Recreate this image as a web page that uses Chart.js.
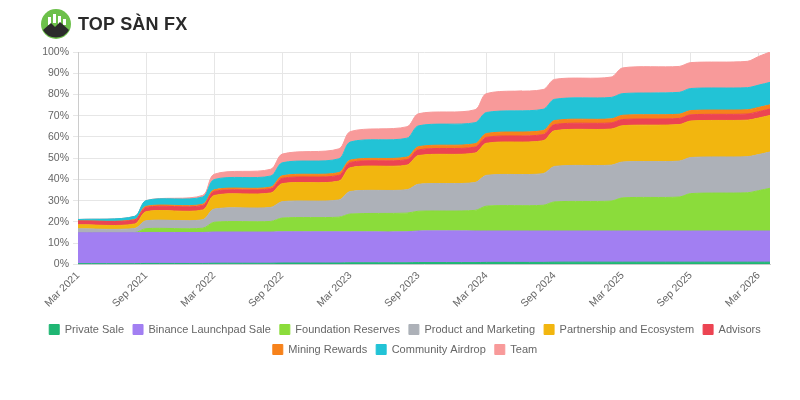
<!DOCTYPE html>
<html>
<head>
<meta charset="utf-8">
<script src="https://cdn.jsdelivr.net/npm/chart.js@4/dist/chart.umd.min.js"></script>
<style>
  html, body { margin: 0; padding: 0; background: #fff; }
  #wrap { position: relative; width: 800px; height: 400px; }
  #logo { position: absolute; left: 40px; top: 8px; display: flex; align-items: center; font-family: 'Liberation Sans', Arial, sans-serif; }
  #logo span { font-weight: bold; font-size: 18px; color: #2a2a2a; margin-left: 6px; letter-spacing: 0.2px; }
</style>
</head>
<body>
<div id="wrap">
  <canvas id="chart" width="800" height="400"></canvas>
  <div id="logo">
    <svg width="32" height="32" viewBox="0 0 32 32">
      <circle cx="16" cy="16" r="15" fill="#6cc04a"/>
      <rect x="8" y="9" width="3" height="8" fill="#fff"/>
      <rect x="13" y="6" width="3" height="9" fill="#fff"/>
      <rect x="18" y="8" width="3" height="8" fill="#fff"/>
      <rect x="23" y="11" width="3" height="6" fill="#fff"/>
      <path d="M3 22 L11 15 L15 19 L20 14 L29 22 A15 15 0 0 1 3 22 Z" fill="#2b2b2b"/>
    </svg>
    <span>TOP SÀN FX</span>
  </div>
</div>
<script>
// month index since Mar 2021 for each point
const months = [0, 5, 6, 11, 12, 17, 18, 23, 24, 29, 30, 35, 36, 41, 42, 47, 48, 53, 54, 59, 60, 61];
const tickLabels = ['Mar 2021', 'Sep 2021', 'Mar 2022', 'Sep 2022', 'Mar 2023', 'Sep 2023',
  'Mar 2024', 'Sep 2024', 'Mar 2025', 'Sep 2025', 'Mar 2026'];

// unlocked share of total supply, in %
const privateSale = [0.3, 0.3, 0.4, 0.4, 0.5, 0.5, 0.6, 0.6, 0.7, 0.7, 0.8, 0.8, 0.9, 0.9, 1.0, 1.0, 1.0, 1.0, 1.0, 1.0, 1.0, 1.0];
const launchpadSale = [14.6, 14.6, 14.6, 14.6, 14.7, 14.7, 14.7, 14.7, 14.6, 14.6, 14.9, 14.9, 14.8, 14.8, 14.7, 14.7, 14.7, 14.7, 14.7, 14.7, 14.7, 14.7];
const foundation = [0, 0, 1.8, 2.0, 4.6, 5.0, 6.5, 6.9, 8.4, 8.8, 9.3, 9.7, 11.7, 12.1, 13.7, 14.1, 15.6, 16.0, 17.6, 18.0, 19.0, 20.1];
const productMarketing = [1.8, 2.0, 3.7, 4.0, 6.2, 6.6, 7.7, 8.1, 10.6, 11.0, 12.7, 13.1, 14.5, 14.9, 16.7, 16.9, 16.9, 16.9, 17.0, 17.0, 17.0, 17.1];
const partnership = [1.9, 2.1, 4.3, 4.6, 6.4, 6.8, 8.5, 8.9, 11.2, 11.6, 13.5, 13.9, 15.1, 15.5, 16.8, 17.0, 17.1, 17.2, 17.2, 17.2, 17.2, 17.2];
const advisors = [1.8, 1.9, 2.0, 2.1, 1.9, 2.0, 2.5, 2.7, 2.5, 2.6, 2.7, 2.8, 2.8, 2.9, 2.9, 2.9, 2.9, 2.9, 2.9, 2.9, 3.0, 3.0];
const mining = [0, 0.2, 0.5, 0.6, 0.8, 0.8, 1.2, 1.3, 1.1, 1.2, 1.5, 1.6, 1.8, 1.9, 1.9, 1.9, 2.0, 2.0, 2.0, 2.0, 2.0, 2.0];
const airdrop = [0.7, 1.5, 2.7, 3.4, 4.8, 5.2, 6.1, 6.5, 8.5, 8.9, 9.8, 9.9, 9.9, 10.0, 10.0, 10.1, 10.2, 10.3, 10.4, 10.4, 10.5, 10.6];
const team = [0, 0, 0, 0.8, 2.5, 3.2, 4.1, 4.7, 4.9, 5.4, 5.7, 6.1, 8.9, 9.3, 9.4, 9.6, 12.1, 12.2, 12.2, 12.4, 13.5, 14.3];

const series = [
  ['Private Sale', privateSale, '#1fb673'],
  ['Binance Launchpad Sale', launchpadSale, '#a27ff2'],
  ['Foundation Reserves', foundation, '#8bdc3b'],
  ['Product and Marketing', productMarketing, '#adb1b8'],
  ['Partnership and Ecosystem', partnership, '#f2b60f'],
  ['Advisors', advisors, '#ec4452'],
  ['Mining Rewards', mining, '#f7821b'],
  ['Community Airdrop', airdrop, '#22c3d6'],
  ['Team', team, '#f89a9a'],
];

const datasets = series.map(([name, values, color], i) => ({
  label: name,
  data: values.map((v, j) => ({ x: months[j], y: v })),
  backgroundColor: color,
  borderColor: color,
  borderWidth: 1,
  pointRadius: 0,
  tension: 0.3,
  fill: i === 0 ? 'origin' : '-1',
}));

const font = { family: "'Liberation Sans', Arial, sans-serif", size: 10.5 };

new Chart(document.getElementById('chart'), {
  type: 'line',
  data: { datasets },
  options: {
    responsive: false,
    animation: false,
    layout: { padding: { top: 52, left: 20, right: 10, bottom: 35 } },
    plugins: {
      tooltip: { enabled: false },
      legend: {
        position: 'bottom',
        labels: { boxWidth: 10, boxHeight: 10, color: '#666', font: { ...font, size: 11 }, padding: 9 },
      },
    },
    scales: {
      x: {
        type: 'linear',
        min: 0,
        max: 61,
        grid: { color: '#e6e6e6', drawTicks: false },
        border: { color: '#ccc' },
        afterBuildTicks: (scale) => {
          scale.ticks = tickLabels.map((_, i) => ({ value: i * 6 }));
        },
        ticks: {
          autoSkip: false,
          maxRotation: 45,
          minRotation: 45,
          padding: 5,
          color: '#666',
          font,
          callback: (v) => tickLabels[Math.round(v / 6)] || '',
        },
      },
      y: {
        stacked: true,
        min: 0,
        max: 100,
        afterFit: (scale) => { scale.width = 58; },
        grid: { color: '#e6e6e6', tickLength: 5 },
        border: { color: '#ccc' },
        ticks: { stepSize: 10, padding: 4, color: '#666', font, callback: (v) => v + '%' },
      },
      // empty axis on the right, only keeps the plot off the edge
      yRight: {
        position: 'right',
        afterFit: (scale) => { scale.width = 20; },
        grid: { display: false },
        border: { display: false },
        ticks: { display: false },
      },
    },
  },
});
</script>
</body>
</html>
